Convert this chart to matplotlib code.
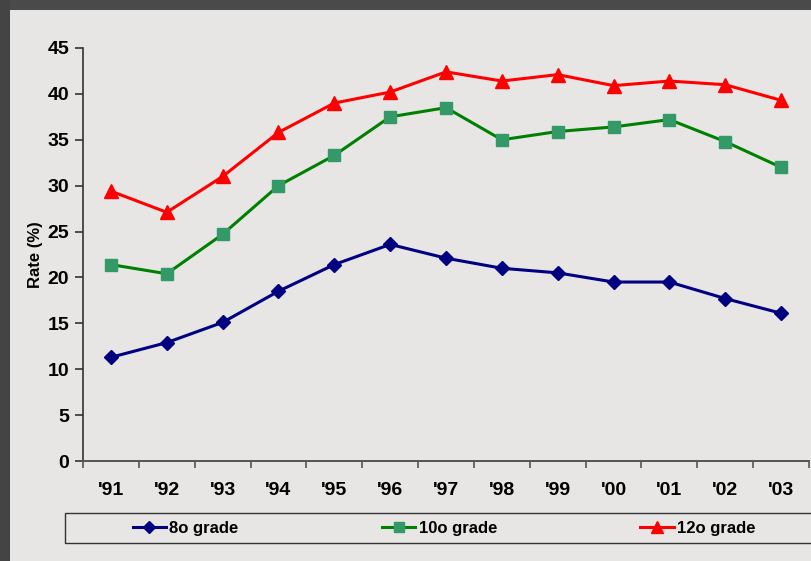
import matplotlib.pyplot as plt
import numpy as np
from matplotlib.patches import Rectangle

# Data
years = ["'91", "'92", "'93", "'94", "'95", "'96", "'97", "'98", "'99", "'00", "'01", "'02", "'03"]
grade8 = [11.3, 12.9, 15.1, 18.5, 21.4, 23.6, 22.1, 21.0, 20.5, 19.5, 19.5, 17.7, 16.1]
grade10 = [21.4, 20.4, 24.7, 30.0, 33.3, 37.5, 38.5, 35.0, 35.9, 36.4, 37.2, 34.8, 32.0]
grade12 = [29.4, 27.1, 31.0, 35.8, 39.0, 40.2, 42.4, 41.4, 42.1, 40.9, 41.4, 41.0, 39.3]
labels = ["8o grade", "10o grade", "12o grade"]

plt.rcParams['font.family'] = ['Liberation Sans', 'DejaVu Sans']

W, H = 812, 561
fig = plt.figure(figsize=(W / 100, H / 100), dpi=100)
fig.patch.set_facecolor('#e7e6e5')

# dark frame on top and left
fig.patches.append(Rectangle((0, 1 - 10 / H), 1, 10 / H, transform=fig.transFigure,
                             facecolor='#4a4a4a', edgecolor='none', zorder=0))
fig.patches.append(Rectangle((0, 0), 10 / W, 1, transform=fig.transFigure,
                             facecolor='#444444', edgecolor='none', zorder=0))

ax = fig.add_axes([83 / W, 1 - 461 / H, (809 - 83) / W, (461 - 48) / H])
ax.set_facecolor('none')

x = np.arange(len(years))
ax.plot(x, grade8, color='#000080', marker='D', markersize=7.5, linewidth=2.2, label=labels[0])
ax.plot(x, grade10, color='#008000', marker='s', markersize=9, markerfacecolor='#339966',
        markeredgecolor='#339966', linewidth=2.2, label=labels[1])
ax.plot(x, grade12, color='#ff0000', marker='^', markersize=10, linewidth=2.2, label=labels[2])

ax.set_xlim(-0.5, len(years) - 0.5)
ax.set_ylim(0, 45)
ax.set_yticks(np.arange(0, 46, 5))
ax.set_xticks(x)
ax.set_xticklabels(years)
ax.set_xticks(np.arange(-0.5, len(years), 1), minor=True)
ax.tick_params(axis='x', which='major', length=0, pad=15)
ax.tick_params(axis='x', which='minor', length=5, color='#555555', width=1.2, direction='out')
ax.tick_params(axis='y', length=6, color='#333333', width=1.2, pad=4, direction='out')
for lab in ax.get_xticklabels() + ax.get_yticklabels():
    lab.set_fontweight('bold')
    lab.set_fontsize(14)

for s in ['top', 'right']:
    ax.spines[s].set_visible(False)
ax.spines['bottom'].set_color('#555555')
ax.spines['bottom'].set_linewidth(1.4)
ax.spines['left'].set_color('#333333')
ax.spines['left'].set_linewidth(1.2)

ax.set_ylabel('Rate (%)', fontsize=12, fontweight='bold', labelpad=3)

# legend frame
fig.patches.append(Rectangle((65 / W, 1 - 543 / H), (W + 5 - 65) / W, 30 / H,
                             transform=fig.transFigure, facecolor='none',
                             edgecolor='#333333', linewidth=1, zorder=1))
handles, lbls = ax.get_legend_handles_labels()
leg = fig.legend(handles, lbls, loc='center', bbox_to_anchor=(444 / W, 1 - 528 / H),
                 ncol=3, frameon=False, prop={'weight': 'bold', 'size': 12},
                 handlelength=2.0, handletextpad=0.2, columnspacing=8.6,
                 markerscale=0.8)

fig.savefig('out.png', dpi=100, facecolor=fig.get_facecolor())
